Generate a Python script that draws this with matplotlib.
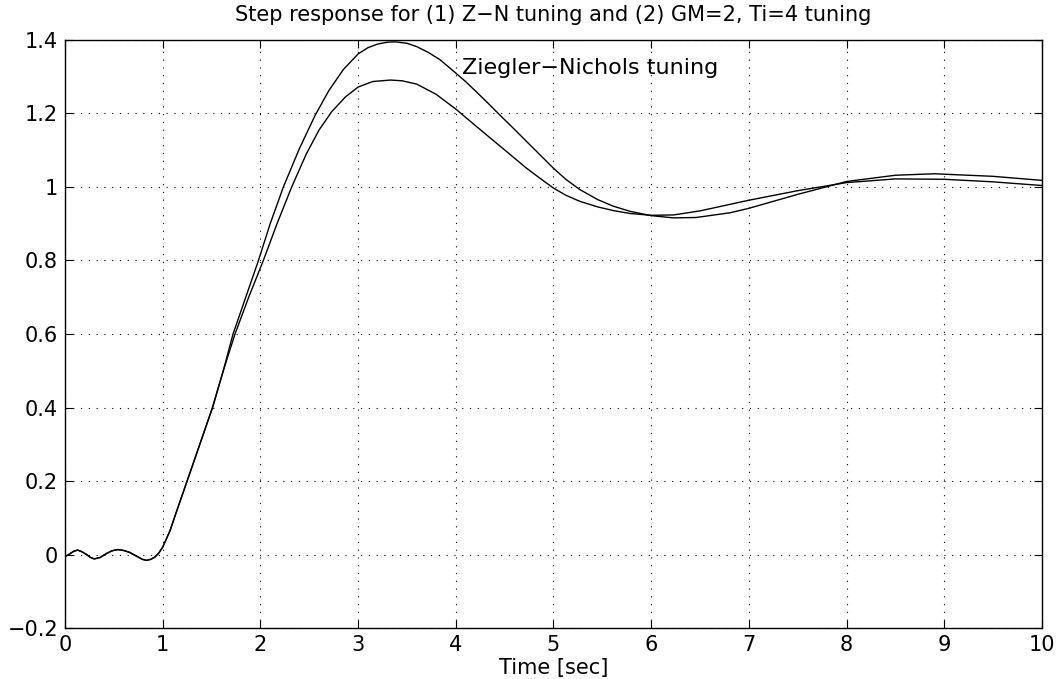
import matplotlib
matplotlib.use("Agg")
import matplotlib.pyplot as plt

plt.rcParams['font.family'] = ['DejaVu Sans']

# Ziegler-Nichols tuning (higher overshoot)
t_zn = [0.0, 0.05, 0.09, 0.13, 0.17, 0.22, 0.26, 0.30, 0.36, 0.42, 0.48,
        0.54, 0.60, 0.66, 0.70, 0.75, 0.79, 0.835, 0.88, 0.92, 0.96,
        1.0, 1.075, 1.144, 1.25, 1.38, 1.51, 1.62, 1.72, 1.85, 1.98, 2.1,
        2.235, 2.4, 2.56, 2.7, 2.85, 3.0, 3.1, 3.2, 3.3, 3.38, 3.5,
        3.6, 3.72, 3.84, 4.0, 4.1, 4.21, 4.33, 4.45, 4.6, 4.72, 4.86, 5.0,
        5.13, 5.27, 5.45, 5.61, 5.78, 6.0, 6.23, 6.46, 6.81, 7.0, 7.5, 8.0,
        8.5, 8.9, 9.5, 10.0]
y_zn = [-0.006, 0.002, 0.009, 0.012, 0.008, 0.0, -0.008, -0.012, -0.008,
        0.002, 0.010, 0.0135, 0.011, 0.006, 0.0, -0.007, -0.013, -0.016,
        -0.013, -0.007, 0.004, 0.02, 0.065, 0.119, 0.20, 0.30, 0.40, 0.50,
        0.60, 0.70, 0.80, 0.90, 1.00, 1.105, 1.195, 1.262, 1.32, 1.362, 1.379,
        1.389, 1.394, 1.395, 1.391, 1.382, 1.366, 1.346, 1.31, 1.287, 1.259,
        1.228, 1.196, 1.157, 1.125, 1.088, 1.051, 1.02, 0.993, 0.966, 0.948,
        0.934, 0.922, 0.916, 0.917, 0.930, 0.942, 0.980, 1.015, 1.032, 1.036,
        1.029, 1.018]

# GM=2, Ti=4 tuning
t_gm = [0.0, 0.05, 0.09, 0.13, 0.17, 0.22, 0.26, 0.30, 0.36, 0.42, 0.48,
        0.54, 0.60, 0.66, 0.70, 0.75, 0.79, 0.835, 0.88, 0.92, 0.96,
        1.0, 1.075, 1.144, 1.25, 1.38, 1.51, 1.62, 1.74, 1.88, 2.03, 2.17,
        2.32, 2.47, 2.6, 2.73, 2.87, 3.0, 3.15, 3.33, 3.45, 3.6, 3.8, 4.0,
        4.21, 4.49, 4.72, 4.86, 5.0, 5.13, 5.27, 5.45, 5.61, 5.78, 6.0, 6.23,
        6.5, 6.81, 7.0, 7.5, 8.0, 8.5, 9.0, 9.5, 10.0]
y_gm = [-0.006, 0.002, 0.009, 0.012, 0.008, 0.0, -0.008, -0.012, -0.008,
        0.002, 0.010, 0.0135, 0.011, 0.006, 0.0, -0.007, -0.013, -0.016,
        -0.013, -0.007, 0.004, 0.02, 0.065, 0.119, 0.20, 0.30, 0.40, 0.50,
        0.60, 0.70, 0.80, 0.90, 1.00, 1.09, 1.155, 1.205, 1.245, 1.272, 1.287,
        1.291, 1.289, 1.28, 1.252, 1.212, 1.165, 1.103, 1.052, 1.024, 0.997,
        0.977, 0.961, 0.946, 0.936, 0.928, 0.923, 0.924, 0.935, 0.953, 0.964,
        0.990, 1.012, 1.022, 1.021, 1.014, 1.004]

xticks = list(range(0, 11))
yticks = [-0.2, 0, 0.2, 0.4, 0.6, 0.8, 1, 1.2, 1.4]
ytick_labels = ['\u22120.2', '0', '0.2', '0.4', '0.6', '0.8', '1', '1.2', '1.4']

fig = plt.figure(figsize=(10.57, 6.79), dpi=100)
ax = fig.add_axes([0.0615, 0.0751, 0.9243, 0.866])

ax.plot(t_zn, y_zn, color='black', lw=1.0)
ax.plot(t_gm, y_gm, color='black', lw=1.0)

ax.set_xlim(0, 10)
ax.set_ylim(-0.2, 1.4)
ax.set_xticks(xticks)
ax.set_yticks(yticks)
ax.set_yticklabels(ytick_labels)
ax.tick_params(direction='in', length=6, width=0.8, top=True, right=True,
               labelsize=15)
ax.tick_params(axis='x', pad=5)
ax.tick_params(axis='y', pad=5)
ax.grid(True, color='black', linestyle=(0, (1, 6)), linewidth=0.8)
for s in ax.spines.values():
    s.set_linewidth(1.0)

ax.set_title('Step response for (1) Z\u2212N tuning and (2) GM=2, Ti=4 tuning',
             fontsize=15, pad=14)
ax.set_xlabel('Time [sec]', fontsize=15, labelpad=2)
ax.text(4.06, 1.324, 'Ziegler\u2212Nichols tuning', fontsize=16, va='center',
        ha='left')

fig.savefig('out.png')
